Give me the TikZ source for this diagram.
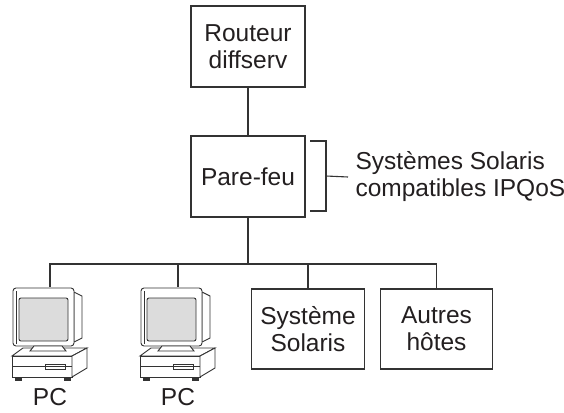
\documentclass[tikz,border=0pt]{standalone}
\usepackage{fontspec}
\setmainfont{Liberation Sans}
\definecolor{ink}{HTML}{231F20}
\definecolor{wire}{HTML}{333333}
\definecolor{screen}{HTML}{DCDCDC}

\tikzset{
    box/.style={draw=wire, line width=1.1pt, text=ink, align=center, inner sep=0pt,
        font=\fontsize{24.5}{27}\selectfont},
    label/.style={text=ink, inner sep=0pt, font=\fontsize{24.5}{27}\selectfont},
    pc/.pic={
        \draw[fill=white] (24,5) -- (32,9) -- (32,51) -- (24,55) -- cycle;
        \draw[rounded corners=3pt, fill=white] (-37,1) rectangle (24,59);
        \draw[rounded corners=2pt, fill=screen] (-31,11) rectangle (18,54);
        \draw (-34,4) -- (-34,57);
        \draw[fill=white] (-27,61) -- (37,61) -- (22,69) -- (-38,69) -- cycle;
        \draw[fill=white] (-16,59) -- (12,59) -- (16,64) -- (-20,64) -- cycle;
        \draw[fill=white] (-38,69) rectangle (22,90);
        \draw[fill=white] (22,69) -- (37,61) -- (37,81) -- (22,90) -- cycle;
        \draw (-38,79) -- (22,79);
        \draw (-5,77) rectangle (15,82);
        \draw[fill=wire] (-35,90) rectangle (-29,93);
        \draw[fill=wire] (14,90) rectangle (20,93);
    }
}

\begin{document}
\begin{tikzpicture}[x=1pt, y=-1pt, line width=1.1pt, draw=wire]
    \useasboundingbox (0,0) rectangle (564,412);

    \node[box, minimum width=114pt, minimum height=81pt] (routeur) at (248,46.5) {Routeur\\diffserv};
    \node[box, minimum width=114pt, minimum height=81pt] (parefeu) at (248,176.5) {Pare-feu};
    \node[box, minimum width=113pt, minimum height=80pt] (systeme) at (308,329) {Système\\Solaris};
    \node[box, minimum width=112pt, minimum height=80pt] (autres) at (436.5,329) {Autres\\hôtes};
    \node[label, anchor=west, align=left] (solaris) at (355,177) {Systèmes Solaris\\compatibles IPQoS};

    \coordinate (pc1) at (50,287);
    \coordinate (pc2) at (178,287);
    \coordinate (bus) at (248,264);
    \pic[line width=0.9pt] at (pc1) {pc};
    \pic[line width=0.9pt] at (pc2) {pc};
    \node[label, anchor=base] (pc1label) at (50,405) {PC};
    \node[label, anchor=base] (pc2label) at (178,405) {PC};

    \draw (routeur) -- (parefeu);
    \draw (parefeu) -- (bus);
    \draw (pc1) -- (pc1 |- bus) -- (autres.north |- bus) -- (autres.north);
    \draw (pc2 |- bus) -- (pc2);
    \draw (systeme.north |- bus) -- (systeme.north);

    \draw (310,141) -- (326,141) -- (326,211) -- (310,211);
    \draw (326,176) -- ([xshift=-7pt]solaris.west);
\end{tikzpicture}
\end{document}
